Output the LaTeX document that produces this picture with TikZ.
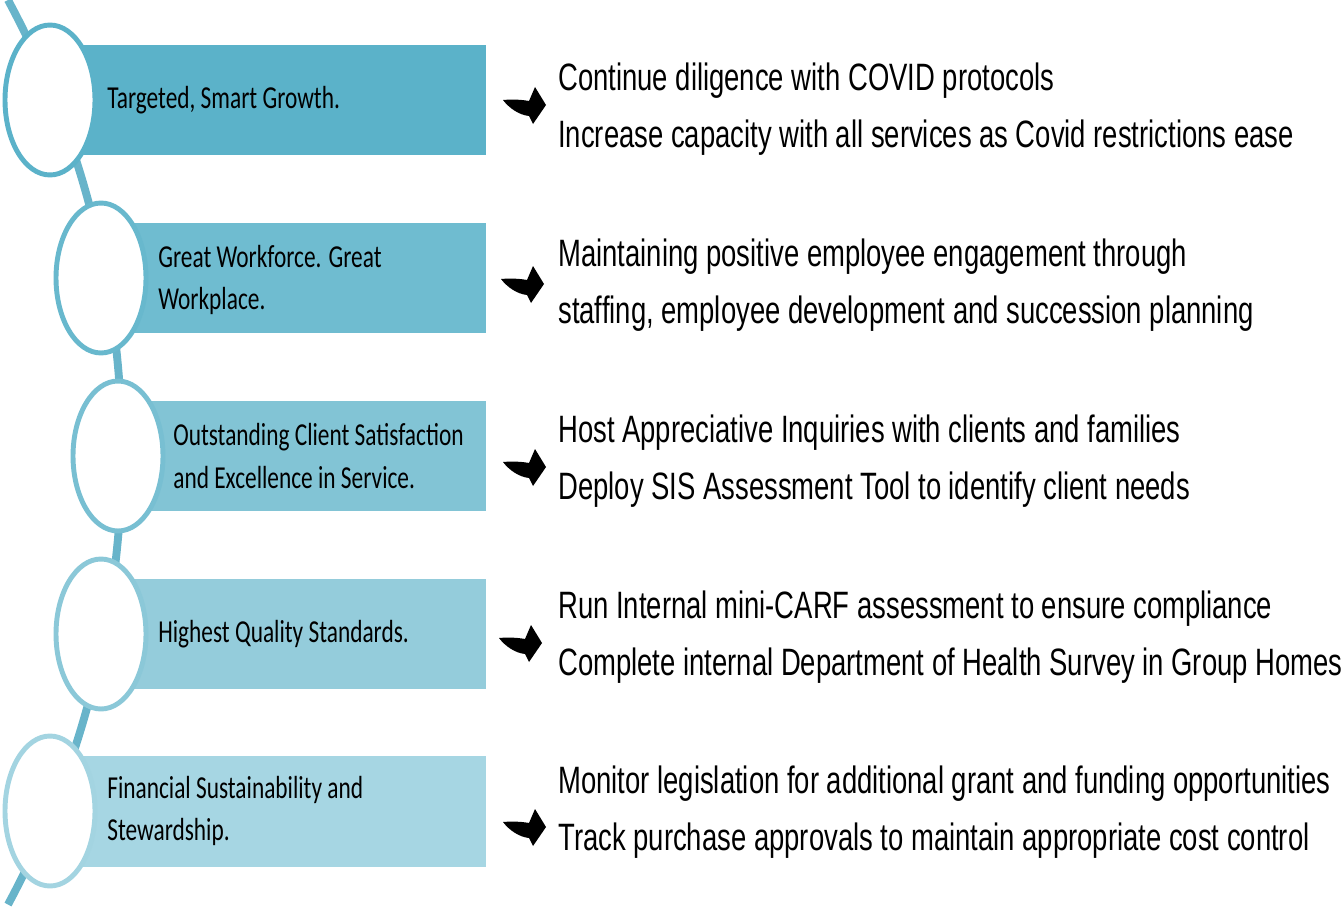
\documentclass[tikz,border=0pt]{standalone}
\usepackage{fontspec}
\setmainfont{Liberation Sans}[FakeStretch=0.72]
\newfontfamily\goalfont{Carlito}[FakeStretch=0.73]
\usepackage{xcolor}
\usetikzlibrary{shapes.geometric}
\usetikzlibrary{positioning}

\definecolor{bandA}{HTML}{5BB2C9}
\definecolor{bandB}{HTML}{6FBCD0}
\definecolor{bandC}{HTML}{82C4D5}
\definecolor{bandD}{HTML}{94CCDB}
\definecolor{bandE}{HTML}{A6D6E3}
\definecolor{ringA}{HTML}{5BB2C9}
\definecolor{ringB}{HTML}{68B8CD}
\definecolor{ringC}{HTML}{78BFD2}
\definecolor{ringD}{HTML}{8BC8D8}
\definecolor{ringE}{HTML}{A3D4E1}
\definecolor{spinecol}{HTML}{68B4CA}

\begin{document}
\begin{tikzpicture}[
    x=0.02cm, y=0.02cm,
    band/.style={rectangle, anchor=west, inner sep=0pt, minimum height=2.22cm},
    ring/.style={ellipse, fill=white, line width=2.8pt, inner sep=0pt, minimum width=1.8cm, minimum height=3.0cm},
    goal/.style={anchor=west, align=left, inner sep=0pt, font=\goalfont\fontsize{18.2}{24.4}\selectfont},
    action/.style={anchor=west, align=left, inner sep=0pt, font=\fontsize{21.7}{32.7}\selectfont},
    swoosh/.pic={\fill[black] (-21,4) .. controls (-10,5) and (0,4) .. (5,3) -- (11,17) -- (22,-1)
        -- (9,-20) -- (5,-12) .. controls (-5,-11) and (-15,-4) .. (-21,4) -- cycle;}
]

    % Area del disegno (come l'immagine di riferimento)
    \useasboundingbox (0,0) rectangle (1344,-909);

    % 1. La linea curva a sinistra
    \draw[spinecol, line width=4.5pt] (8,0) arc[start angle=28.27, end angle=-28.27, radius=955];

    % 2. Le fasce colorate
    \node[band, fill=bandA, minimum width=8.72cm] (b1) at (50,-100) {};
    \node[band, fill=bandB, minimum width=7.70cm] (b2) at (101,-278) {};
    \node[band, fill=bandC, minimum width=7.36cm] (b3) at (118,-456) {};
    \node[band, fill=bandD, minimum width=7.70cm] (b4) at (101,-634) {};
    \node[band, fill=bandE, minimum width=8.72cm] (b5) at (50,-811) {};

    % 3. Gli anelli sopra la linea
    \node[ring, draw=ringA] (r1) at (b1.west) {};
    \node[ring, draw=ringB] (r2) at (b2.west) {};
    \node[ring, draw=ringC] (r3) at (b3.west) {};
    \node[ring, draw=ringD] (r4) at (b4.west) {};
    \node[ring, draw=ringE] (r5) at (b5.west) {};

    % 4. Gli obiettivi dentro le fasce
    \node[goal] (g1) at ([xshift=1.14cm]b1.west) {Targeted, Smart Growth.};
    \node[goal] (g2) at ([xshift=1.14cm,yshift=-0.04cm]b2.west) {Great Workforce. Great\\Workplace.};
    \node[goal] (g3) at ([xshift=1.10cm]b3.west) {Outstanding Client Satisfaction\\and Excellence in Service.};
    \node[goal] (g4) at ([xshift=1.14cm]b4.west) {Highest Quality Standards.};
    \node[goal] (g5) at ([xshift=1.14cm]b5.west) {Financial Sustainability and\\Stewardship.};

    % 5. Le frecce
    \pic at (524,-104) {swoosh};
    \pic at (522,-283) {swoosh};
    \pic at (524,-466) {swoosh};
    \pic at (520,-642) {swoosh};
    \pic at (524,-826) {swoosh};

    % 6. Le azioni a destra
    \node[action] (a1) at (558,-109) {Continue diligence with COVID protocols\\Increase capacity with all services as Covid restrictions ease};
    \node[action] (a2) at (558,-285) {Maintaining positive employee engagement through\\staffing, employee development and succession planning};
    \node[action] (a3) at (558,-461) {Host Appreciative Inquiries with clients and families\\Deploy SIS Assessment Tool to identify client needs};
    \node[action] (a4) at (558,-637) {Run Internal mini-CARF assessment to ensure compliance\\Complete internal Department of Health Survey in Group Homes};
    \node[action] (a5) at (558,-812) {Monitor legislation for additional grant and funding opportunities\\Track purchase approvals to maintain appropriate cost control};

\end{tikzpicture}
\end{document}
